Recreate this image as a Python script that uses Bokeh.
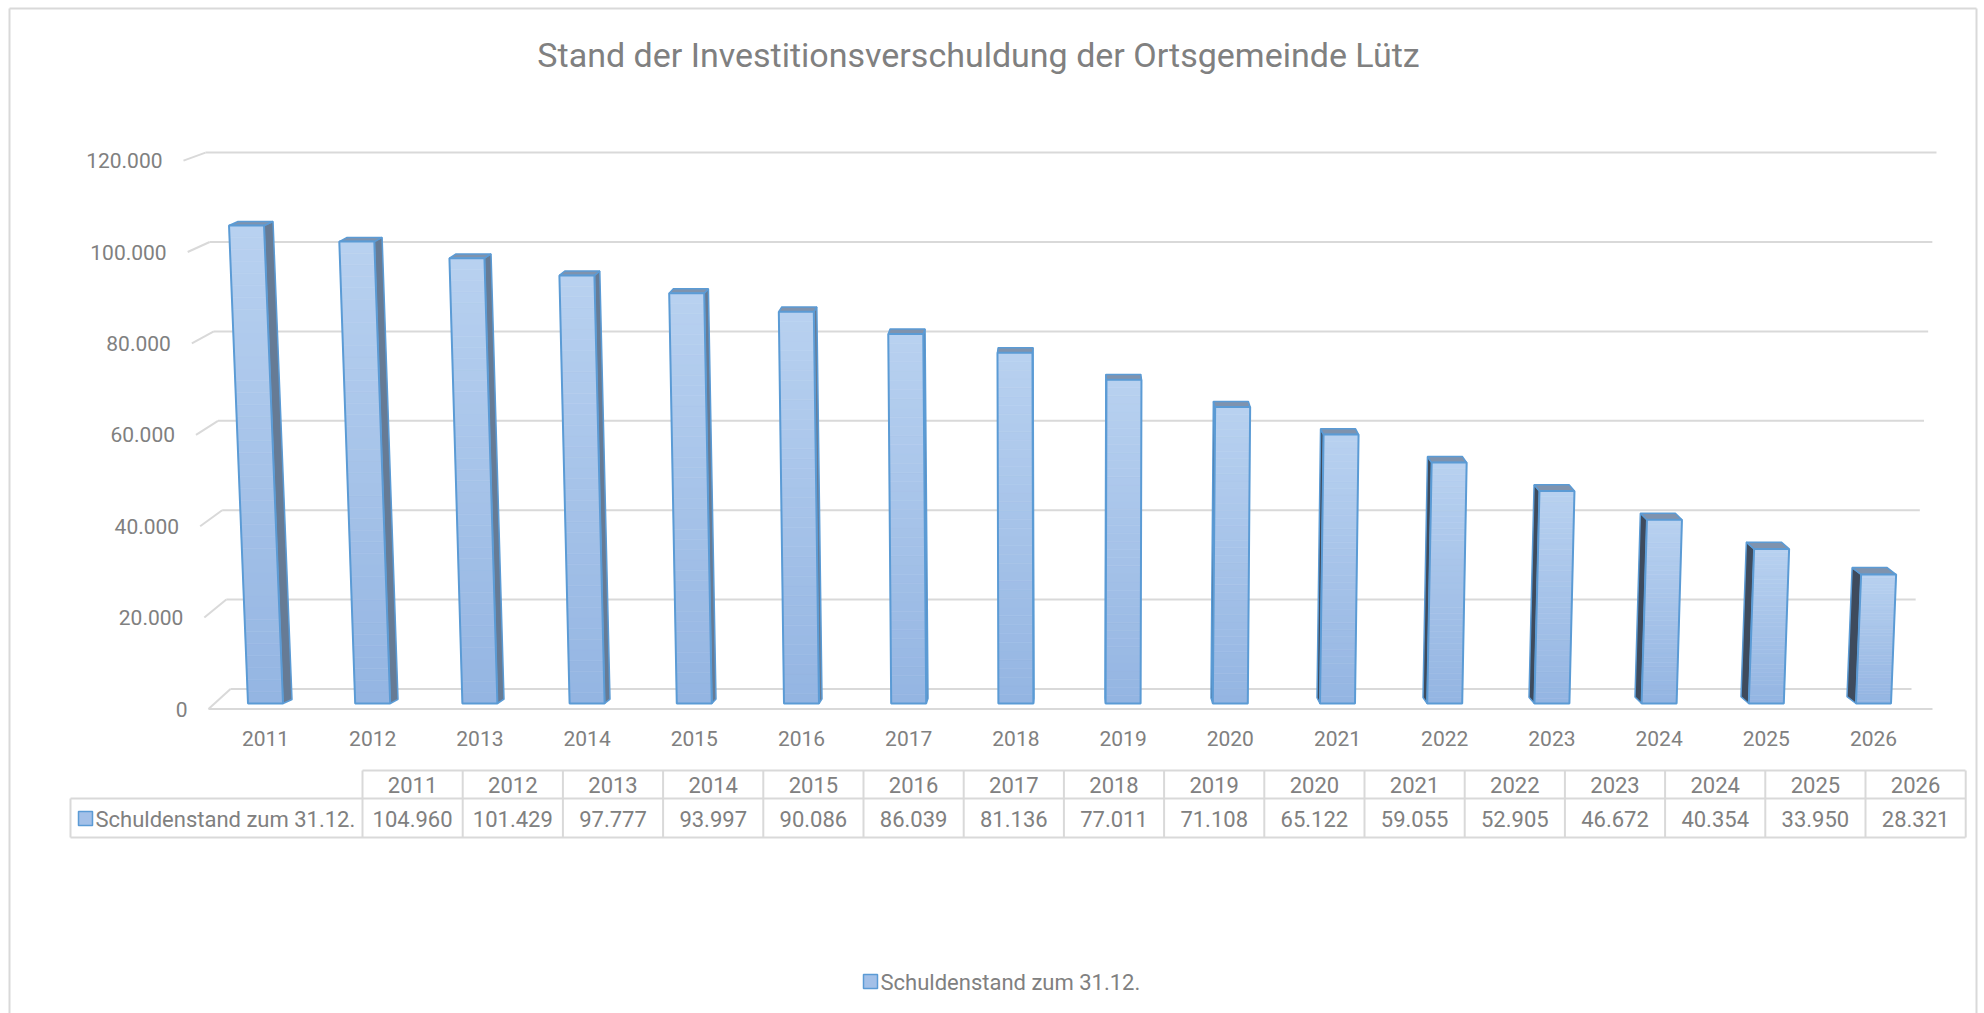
from bokeh.plotting import figure
from bokeh.models import Range1d
from bokeh.embed import file_html
from bokeh.resources import INLINE
from bokeh.core.properties import value

# ---------------- data ----------------
years = ["2011", "2012", "2013", "2014", "2015", "2016", "2017", "2018",
         "2019", "2020", "2021", "2022", "2023", "2024", "2025", "2026"]
debt = [104960, 101429, 97777, 93997, 90086, 86039, 81136, 77011,
        71108, 65122, 59055, 52905, 46672, 40354, 33950, 28321]
y_ticks = [0, 20000, 40000, 60000, 80000, 100000, 120000]
y_max = 120000
title_text = "Stand der Investitionsverschuldung der Ortsgemeinde Lütz"
series_name = "Schuldenstand zum 31.12."


def de_fmt(v):
    return f"{v:,}".replace(",", ".")


# ---------------- layout (page pixels) ----------------
W, H = 1984, 1013
PAGE = 0
X0, DX = 265.0, 107.2      # first category centre, px per category
Y0, KY = 688.5, 0.00447    # page y of value 0 on back wall, px per unit

FONT = value("Roboto")
TXT = "#808080"
GRID = "#D9D9D9"
BLUE = "#5B9BD5"


def ux(px):
    return (px - X0) / DX


def uy(py):
    return (Y0 - py) / KY


def py_of(v):
    return Y0 - v * KY


p = figure(width=W, height=H,
           x_range=Range1d(ux(PAGE), ux(PAGE + W)),
           y_range=Range1d(uy(PAGE + H), uy(PAGE)),
           x_axis_type=None, y_axis_type=None, min_border=0,
           toolbar_location=None, output_backend="svg",
           outline_line_color=None, background_fill_color="white",
           border_fill_color="white")

# chart border (left, top, right)
p.segment(x0=[ux(9), ux(9), ux(1976)], y0=[uy(1013), uy(8), uy(1013)],
          x1=[ux(9), ux(1976), ux(1976)], y1=[uy(8), uy(8), uy(8)],
          line_color=GRID, line_width=2)

# title
p.text(x=[ux(978)], y=[uy(54)], text=[title_text], text_font=FONT,
       text_font_size="34px", text_color=TXT, text_align="center",
       text_baseline="alphabetic")

# ---------------- walls / gridlines ----------------
WL0, WR0, SPREAD = 230.0, 1911.0, 25.0
TICK_DX, TDY0, TDY1 = 22.0, 20.0, 8.0


def wall_left(v):
    return WL0 - SPREAD * v / y_max


def wall_right(v):
    return WR0 + SPREAD * v / y_max


def tick_dy(v):
    return TDY0 - (TDY0 - TDY1) * v / y_max


p.segment(x0=[ux(wall_left(v)) for v in y_ticks], y0=y_ticks,
          x1=[ux(wall_right(v)) for v in y_ticks], y1=y_ticks,
          line_color=GRID, line_width=2)
p.segment(x0=[ux(wall_left(v) - TICK_DX) for v in y_ticks],
          y0=[uy(py_of(v) + tick_dy(v)) for v in y_ticks],
          x1=[ux(wall_left(v)) for v in y_ticks], y1=y_ticks,
          line_color=GRID, line_width=2)
# floor front edge
p.segment(x0=[ux(wall_left(0) - TICK_DX)], y0=[uy(py_of(0) + TDY0)],
          x1=[ux(1932)], y1=[uy(py_of(0) + TDY0)],
          line_color=GRID, line_width=2)

p.text(x=[ux(wall_left(v) - TICK_DX - 21) for v in y_ticks],
       y=[uy(py_of(v) + tick_dy(v)) for v in y_ticks],
       text=[de_fmt(v) for v in y_ticks], text_font=FONT,
       text_font_size="21px", text_color=TXT, text_align="right",
       text_baseline="middle")

# ---------------- pseudo 3D bars ----------------
BASE = uy(703)
HW = 17.5 / DX
MID = (len(debt) - 1) / 2.0
C_BOT, C_TOP = (0x94, 0xB5, 0xE2), (0xB8, 0xD1, 0xF0)
K = 40


def mix(t):
    c = [round(a + (b - a) * t) for a, b in zip(C_BOT, C_TOP)]
    return "#%02x%02x%02x" % tuple(c)


grad_xs, grad_ys, grad_c = [], [], []
front_xs, front_ys = [], []
side_xs, side_ys, side_c = [], [], []
top_xs, top_ys = [], []
for i, v in enumerate(debt):
    top = v * 1.0188 + BASE
    h_px = (top - BASE) * KY
    rel = (i - MID) / MID
    lean = rel * 0.0397 * h_px / DX
    xl_b, xr_b = i - HW, i + HW
    xl_t, xr_t = xl_b + lean, xr_b + lean
    for k in range(K):
        t0, t1 = k / K, (k + 1) / K
        ya, yb = BASE + t0 * (top - BASE), BASE + t1 * (top - BASE)
        grad_xs.append([xl_b + lean * t0, xr_b + lean * t0,
                        xr_b + lean * t1, xl_b + lean * t1])
        grad_ys.append([ya, ya, yb, yb])
        grad_c.append(mix((t0 + t1) / 2))
    front_xs.append([xl_b, xr_b, xr_t, xl_t])
    front_ys.append([BASE, BASE, top, top])
    sw = 9.0 * abs(rel) / DX
    depth = (8.0 - 4.0 * v / 105000) / KY
    if i <= MID:
        sdir, ex_b, ex_t, col = 1, xr_b, xr_t, "#667B95"
    else:
        sdir, ex_b, ex_t, col = -1, xl_b, xl_t, "#3E4B5D"
    side_xs.append([ex_b, ex_t, ex_t + sdir * sw, ex_b + sdir * sw])
    side_ys.append([BASE, top, top + depth, BASE + depth])
    side_c.append(col)
    top_xs.append([xl_t, xr_t, xr_t + sdir * sw, xl_t + sdir * sw])
    top_ys.append([top, top, top + depth, top + depth])

p.patches(xs=side_xs, ys=side_ys, fill_color=side_c, line_color=BLUE,
          line_width=1.5)
p.patches(xs=top_xs, ys=top_ys, fill_color="#7F93AE", line_color=BLUE,
          line_width=1.5)
p.patches(xs=grad_xs, ys=grad_ys, fill_color=grad_c, line_color=grad_c,
          line_width=0.6)
p.patches(xs=front_xs, ys=front_ys, fill_color=None, line_color=BLUE,
          line_width=2)

# category labels
p.text(x=list(range(len(years))), y=[uy(738)] * len(years), text=years,
       text_font=FONT, text_font_size="21px", text_color=TXT,
       text_align="center", text_baseline="middle")

# ---------------- data table ----------------
T_L, T_C0, T_CW, T_R = 70.0, 362.0, 100.2, 1965.0
R_TOP, R_MID, R_BOT = 770.0, 798.0, 837.0
n = len(years)
vx = [T_C0 + T_CW * k for k in range(n + 1)]
p.segment(x0=[ux(T_C0), ux(T_L), ux(T_L)] + [ux(x) for x in vx] + [ux(T_L)],
          y0=[uy(R_TOP), uy(R_MID), uy(R_BOT)] + [uy(R_TOP)] * (n + 1) + [uy(R_MID)],
          x1=[ux(T_R), ux(T_R), ux(T_R)] + [ux(x) for x in vx] + [ux(T_L)],
          y1=[uy(R_TOP), uy(R_MID), uy(R_BOT)] + [uy(R_BOT)] * (n + 1) + [uy(R_BOT)],
          line_color=GRID, line_width=2)
cx = [ux(T_C0 + T_CW * (k + 0.5)) for k in range(n)]
p.text(x=cx, y=[uy((R_TOP + R_MID) / 2)] * n, text=years, text_font=FONT,
       text_font_size="22px", text_color=TXT, text_align="center",
       text_baseline="middle")
p.text(x=cx, y=[uy((R_MID + R_BOT) / 2 + 1)] * n, text=[de_fmt(v) for v in debt],
       text_font=FONT, text_font_size="22px", text_color=TXT,
       text_align="center", text_baseline="middle")
p.rect(x=[ux(85)], y=[uy(818)], width=14 / DX, height=14 / KY,
       fill_color="#A3C0E8", line_color=BLUE, line_width=1.5)
p.text(x=[ux(95)], y=[uy(819)], text=[series_name], text_font=FONT,
       text_font_size="22px", text_color=TXT, text_align="left",
       text_baseline="middle")

# ---------------- legend ----------------
p.rect(x=[ux(870)], y=[uy(981)], width=14 / DX, height=14 / KY,
       fill_color="#A3C0E8", line_color=BLUE, line_width=1.5)
p.text(x=[ux(880)], y=[uy(982)], text=[series_name], text_font=FONT,
       text_font_size="22px", text_color=TXT, text_align="left",
       text_baseline="middle")

open("out.html", "w").write(file_html(p, INLINE))
